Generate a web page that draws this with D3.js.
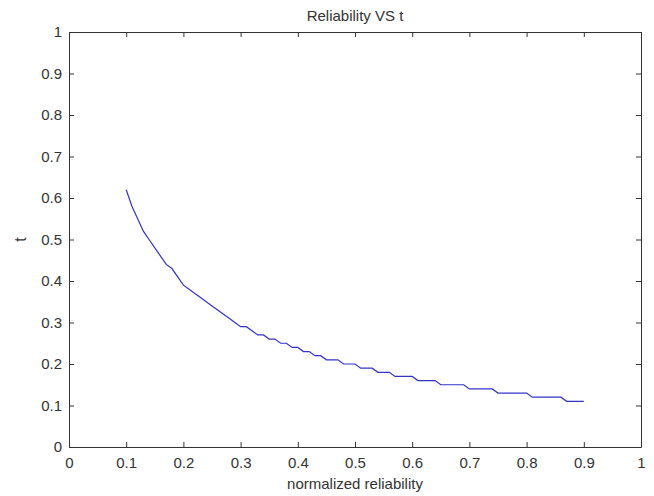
<!DOCTYPE html>
<html>
<head>
<meta charset="utf-8">
<script src="https://cdn.jsdelivr.net/npm/d3@7"></script>
<style>
  body { margin: 0; background: #fff; }
  text { font-family: "Liberation Sans", Arial, sans-serif; fill: #333; }
</style>
</head>
<body>
<script>
// Reliability (x) and t (y).
const reliability = [
  0.10, 0.11, 0.12, 0.13, 0.14, 0.15, 0.16, 0.17, 0.18, 0.19,
  0.20, 0.21, 0.22, 0.23, 0.24, 0.25, 0.26, 0.27, 0.28, 0.29,
  0.30, 0.31, 0.32, 0.33, 0.34, 0.35, 0.36, 0.37, 0.38, 0.39,
  0.40, 0.41, 0.42, 0.43, 0.44, 0.45, 0.46, 0.47, 0.48, 0.49,
  0.50, 0.51, 0.52, 0.53, 0.54, 0.55, 0.56, 0.57, 0.58, 0.59,
  0.60, 0.61, 0.62, 0.63, 0.64, 0.65, 0.66, 0.67, 0.68, 0.69,
  0.70, 0.71, 0.72, 0.73, 0.74, 0.75, 0.76, 0.77, 0.78, 0.79,
  0.80, 0.81, 0.82, 0.83, 0.84, 0.85, 0.86, 0.87, 0.88, 0.89,
  0.90
];
const tValues = [
  0.62, 0.58, 0.55, 0.52, 0.50, 0.48, 0.46, 0.44, 0.43, 0.41,
  0.39, 0.38, 0.37, 0.36, 0.35, 0.34, 0.33, 0.32, 0.31, 0.30,
  0.29, 0.29, 0.28, 0.27, 0.27, 0.26, 0.26, 0.25, 0.25, 0.24,
  0.24, 0.23, 0.23, 0.22, 0.22, 0.21, 0.21, 0.21, 0.20, 0.20,
  0.20, 0.19, 0.19, 0.19, 0.18, 0.18, 0.18, 0.17, 0.17, 0.17,
  0.17, 0.16, 0.16, 0.16, 0.16, 0.15, 0.15, 0.15, 0.15, 0.15,
  0.14, 0.14, 0.14, 0.14, 0.14, 0.13, 0.13, 0.13, 0.13, 0.13,
  0.13, 0.12, 0.12, 0.12, 0.12, 0.12, 0.12, 0.11, 0.11, 0.11,
  0.11
];
const tickValues = [0, 0.1, 0.2, 0.3, 0.4, 0.5, 0.6, 0.7, 0.8, 0.9, 1];
const tickLabels = ['0', '0.1', '0.2', '0.3', '0.4', '0.5', '0.6', '0.7', '0.8', '0.9', '1'];

const width = 654;
const height = 496;
const plotLeft = 69, plotRight = 641, plotTop = 32, plotBottom = 447;

const xScale = d3.scaleLinear().domain([0, 1]).range([plotLeft, plotRight]);
const yScale = d3.scaleLinear().domain([0, 1]).range([plotBottom, plotTop]);

const svg = d3.select('body')
  .append('svg')
  .attr('width', width)
  .attr('height', height);

const fmt = (d, i) => tickLabels[i];

// Axes, ticks pointing inward like matlab.
svg.append('g')
  .attr('transform', 'translate(0,' + plotBottom + ')')
  .call(d3.axisBottom(xScale).tickValues(tickValues).tickFormat(fmt).tickSizeInner(-5).tickSizeOuter(0).tickPadding(10));
svg.append('g')
  .attr('transform', 'translate(0,' + plotTop + ')')
  .call(d3.axisTop(xScale).tickValues(tickValues).tickFormat('').tickSizeInner(-5).tickSizeOuter(0));
svg.append('g')
  .attr('transform', 'translate(' + plotLeft + ',0)')
  .call(d3.axisLeft(yScale).tickValues(tickValues).tickFormat(fmt).tickSizeInner(-5).tickSizeOuter(0).tickPadding(7));
svg.append('g')
  .attr('transform', 'translate(' + plotRight + ',0)')
  .call(d3.axisRight(yScale).tickValues(tickValues).tickFormat('').tickSizeInner(-5).tickSizeOuter(0));

svg.selectAll('.domain').attr('stroke', '#333');
svg.selectAll('.tick line').attr('stroke', '#333');
svg.selectAll('.tick text').style('font-size', '15px').style('fill', '#333');

// Curve.
const points = reliability.map((r, i) => [r, tValues[i]]);
svg.append('path')
  .datum(points)
  .attr('fill', 'none')
  .attr('stroke', '#3333cc')
  .attr('stroke-width', 1.2)
  .attr('d', d3.line().x(d => xScale(d[0])).y(d => yScale(d[1])));

// Titles.
svg.append('text')
  .attr('x', (plotLeft + plotRight) / 2)
  .attr('y', 21)
  .attr('text-anchor', 'middle')
  .style('font-size', '15px')
  .text('Reliability VS t');
svg.append('text')
  .attr('x', (plotLeft + plotRight) / 2)
  .attr('y', 489)
  .attr('text-anchor', 'middle')
  .style('font-size', '15px')
  .text('normalized reliability');
svg.append('text')
  .attr('transform', 'translate(26,' + ((plotTop + plotBottom) / 2) + ') rotate(-90)')
  .attr('text-anchor', 'middle')
  .style('font-size', '16px')
  .text('t');
</script>
</body>
</html>
